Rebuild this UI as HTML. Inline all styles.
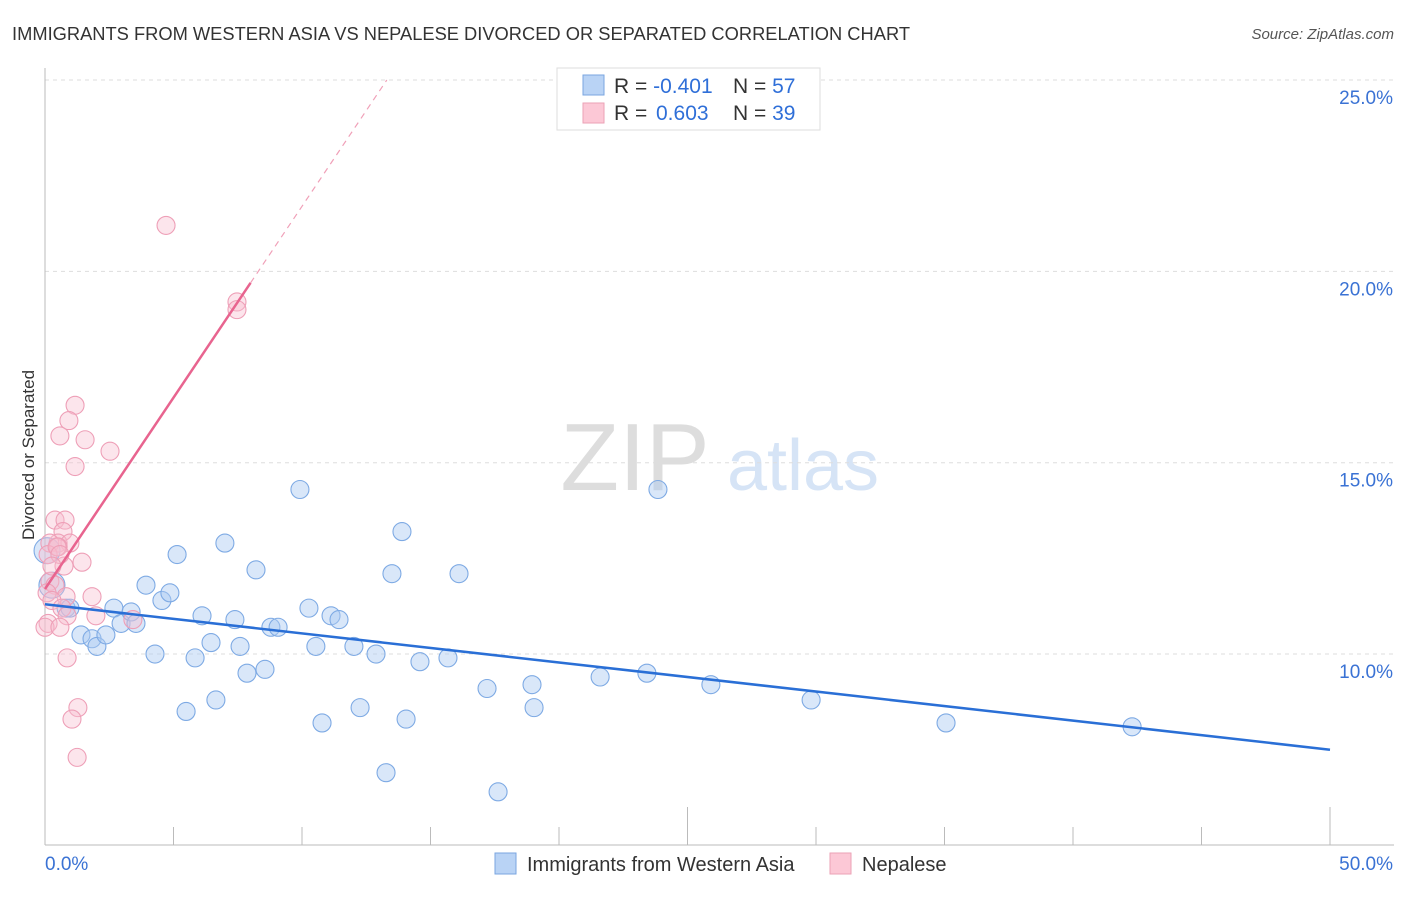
<!DOCTYPE html>
<html><head><meta charset="utf-8"><style>
body{margin:0;background:#fff;font-family:"Liberation Sans",sans-serif;}
svg text{font-family:"Liberation Sans",sans-serif;}
</style></head><body>
<svg id="chart" width="1406" height="892" xmlns="http://www.w3.org/2000/svg">
<text x="12" y="40" font-size="18" fill="#333" textLength="898" lengthAdjust="spacingAndGlyphs">IMMIGRANTS FROM WESTERN ASIA VS NEPALESE DIVORCED OR SEPARATED CORRELATION CHART</text>
<text x="1394" y="39" font-size="15" fill="#555" text-anchor="end" font-style="italic">Source: ZipAtlas.com</text>
<text transform="translate(34,455) rotate(-90)" font-size="17" fill="#333" text-anchor="middle">Divorced or Separated</text>
<g>
<text x="635" y="490" font-size="96" fill="#ddd" text-anchor="middle" font-family="Liberation Serif,serif">ZIP</text>
<text x="803" y="490" font-size="72" fill="#d6e4f6" text-anchor="middle">atlas</text>
</g>
<g id="grid"></g><g id="axes"></g><g id="pts"></g><g id="lines"></g>
<g>
<rect x="557" y="68" width="263" height="62" fill="#fff" stroke="#ddd"/>
<rect x="583" y="75" width="21" height="20" fill="#b9d3f5" stroke="#7aa6e0"/>
<rect x="583" y="103" width="21" height="20" fill="#fcc8d6" stroke="#eba2b6"/>
<text x="614" y="93" font-size="21" fill="#333">R = <tspan fill="#2f6fd8">-0.401</tspan></text>
<text x="733" y="93" font-size="21" fill="#333">N = <tspan fill="#2f6fd8">57</tspan></text>
<text x="614" y="120" font-size="21" fill="#333">R = <tspan fill="#2f6fd8" x="656">0.603</tspan></text>
<text x="733" y="120" font-size="21" fill="#333">N = <tspan fill="#2f6fd8">39</tspan></text>
</g>
<g>
<rect x="495" y="853" width="21" height="21" fill="#b9d3f5" stroke="#7aa6e0"/>
<text x="527" y="871" font-size="20" fill="#333">Immigrants from Western Asia</text>
<rect x="830" y="853" width="21" height="21" fill="#fcc8d6" stroke="#eba2b6"/>
<text x="862" y="871" font-size="20" fill="#333">Nepalese</text>
</g>
</svg>
<script>
const blueX=[0.27,0.08,0.82,0.97,1.4,1.83,2.02,2.37,2.68,2.96,3.35,3.54,3.93,4.28,4.55,4.86,5.14,5.49,5.84,6.11,6.46,6.65,7.0,7.39,7.59,7.86,8.21,8.56,8.79,9.07,9.92,10.27,10.54,10.78,11.13,11.44,12.02,12.26,12.88,13.27,13.5,13.89,14.05,14.59,15.68,16.11,17.2,17.63,18.95,19.03,21.6,23.42,23.85,25.91,29.81,35.06,42.3];
const blueY=[11.8,12.7,11.2,11.2,10.5,10.4,10.2,10.5,11.2,10.8,11.1,10.8,11.8,10.0,11.4,11.6,12.6,8.5,9.9,11.0,10.3,8.8,12.9,10.9,10.2,9.5,12.2,9.6,10.7,10.7,14.3,11.2,10.2,8.2,11.0,10.9,10.2,8.6,10.0,6.9,12.1,13.2,8.3,9.8,9.9,12.1,9.1,6.4,9.2,8.6,9.4,9.5,14.3,9.2,8.8,8.2,8.1];
const pinkX=[4.71,7.47,7.47,1.17,0.93,0.58,1.56,2.53,1.17,0.39,0.78,0.7,0.51,0.97,0.19,0.51,0.12,1.44,0.74,0.19,0.39,0.08,0.82,1.83,0.27,0.66,1.98,0.86,0.12,0.0,0.58,0.86,1.28,1.05,1.25,0.47,0.58,3.42,0.27];
const pinkY=[21.2,19.2,19.0,16.5,16.1,15.7,15.6,15.3,14.9,13.5,13.5,13.2,12.9,12.9,12.9,12.8,12.6,12.4,12.3,11.9,11.8,11.6,11.5,11.5,11.4,11.2,11.0,11.0,10.8,10.7,10.7,9.9,8.6,8.3,7.3,12.8,12.6,10.9,12.3];
const yTicks=[10,15,20,25];
const blueLine=[11.3,7.5];
const pinkLine=[11.7,19.7];
const NS="http://www.w3.org/2000/svg";
const X=v=>45+v/50*1285, Y=v=>80+(25-v)*38.27;
function mk(p,t,a){const e=document.createElementNS(NS,t);for(const k in a)e.setAttribute(k,a[k]);p.appendChild(e);return e;}
const grid=document.getElementById('grid'),axes=document.getElementById('axes');
yTicks.forEach(t=>{
 const l=mk(grid,'line',{x1:45,x2:1394,y1:Y(t),y2:Y(t),stroke:'#ddd','stroke-dasharray':'4,4'});
 
 
 const tx=mk(axes,'text',{x:1393,y:Y(t)+24,'font-size':19,fill:'#3a72d4','text-anchor':'end'});tx.textContent=t.toFixed(1)+'%';
 
 
});
let a=mk(axes,'line',{x1:45,x2:45,y1:68,y2:845,stroke:'#bbb'});


a=mk(axes,'line',{x1:45,x2:1394,y1:845,y2:845,stroke:'#bbb'});


for(let i=0;i<=10;i++){const x=X(i*5);const t=mk(axes,'line',{x1:x,x2:x,y1:(i==5||i==10)?807:827,y2:845,stroke:'#bbb'});
 
 }
[['0.0%',45,'start'],['50.0%',1393,'end']].forEach(d=>{const t=mk(axes,'text',{x:d[1],y:870,'font-size':19,fill:'#3a72d4','text-anchor':d[2]});t.textContent=d[0];
 
 });
const pts=document.getElementById('pts');
blueX.forEach((v,i)=>{const c=mk(pts,'circle',{cx:X(v),cy:Y(blueY[i]),r:i<2?13:9,fill:'rgba(170,202,242,0.45)',stroke:'#7eaae4','stroke-width':1.1});
 
 });
pinkX.forEach((v,i)=>{const c=mk(pts,'circle',{cx:X(v),cy:Y(pinkY[i]),r:9,fill:'rgba(248,190,208,0.4)',stroke:'#ee9fb7','stroke-width':1.1});
 
 });
const lines=document.getElementById('lines');
let l=mk(lines,'line',{x1:X(0),y1:Y(blueLine[0]),x2:X(50),y2:Y(blueLine[1]),stroke:'#2a6fd6','stroke-width':2.5});


const slope=(pinkLine[1]-pinkLine[0])/8;
l=mk(lines,'line',{x1:X(0),y1:Y(pinkLine[0]),x2:X(8),y2:Y(pinkLine[1]),stroke:'#e8648f','stroke-width':2.5});


const xe=(25-pinkLine[0])/slope;
l=mk(lines,'line',{x1:X(8),y1:Y(pinkLine[1]),x2:X(xe),y2:Y(25),stroke:'#f0a0b8','stroke-width':1.2,'stroke-dasharray':'6,5'});


</script>
</body></html>
